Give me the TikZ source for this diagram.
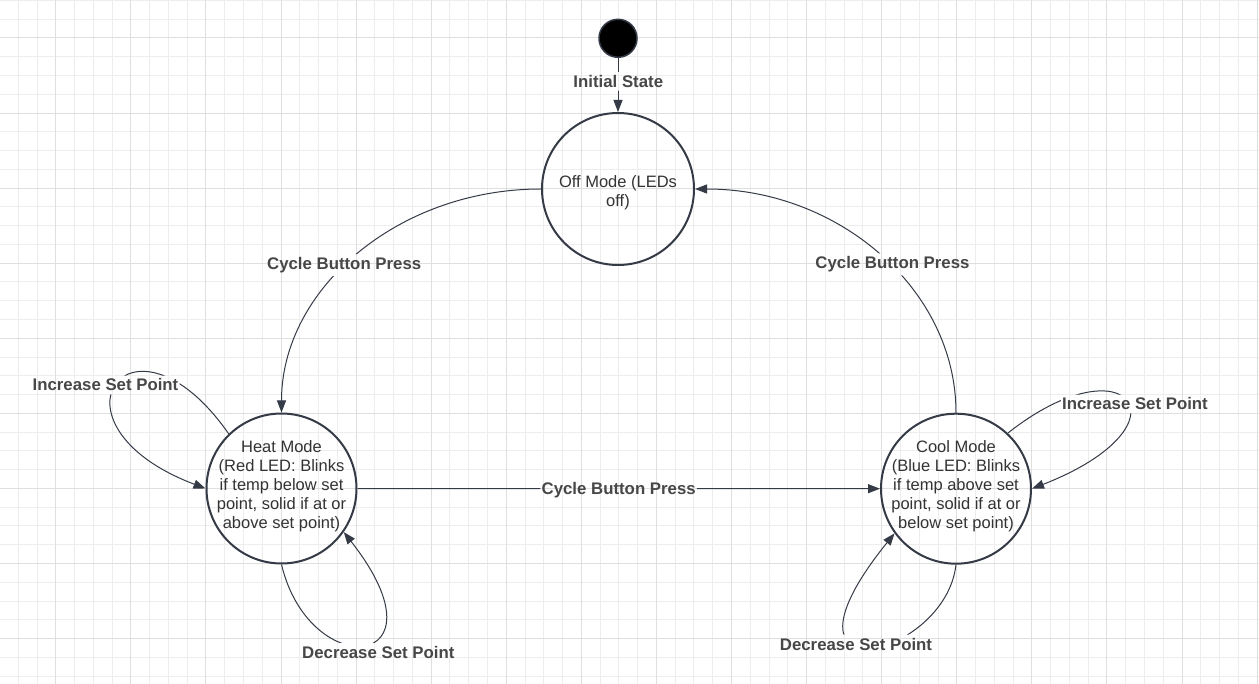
\documentclass[tikz,border=0pt]{standalone}
\usepackage{fontspec}
\setmainfont{Liberation Sans}
\usetikzlibrary{arrows.meta}
\definecolor{ink}{HTML}{343A46}
\definecolor{txt}{HTML}{333333}
\definecolor{lbl}{HTML}{474747}
\definecolor{gridminor}{HTML}{EDEDED}
\definecolor{gridmajor}{HTML}{DFDFDF}
\begin{document}
\begin{tikzpicture}[x=1pt,y=-1pt,
  state/.style={circle,draw=ink,line width=2pt,minimum size=150pt,inner sep=0pt},
  statetext/.style={align=center,text=txt,font=\fontsize{16.5}{19}\selectfont,inner sep=0pt},
  edgelabel/.style={text=lbl,font=\fontsize{16.8}{19}\selectfont\bfseries,inner xsep=1pt,inner ysep=3pt,anchor=base},
  conn/.style={draw=ink,line width=1pt,-{Triangle[length=12pt,width=9pt]}}]
\fill[white] (0,0) rectangle (1259,684);
\useasboundingbox (0,0) rectangle (1259,684);
% grid
\foreach \i in {0,...,67} {\draw[gridminor,line width=1pt] (\i*18.77-0.5,0) -- (\i*18.77-0.5,684);}
\foreach \j in {0,...,36} {\draw[gridminor,line width=1pt] (0,\j*18.77+0.4) -- (1259,\j*18.77+0.4);}
\foreach \i in {3,7,...,67} {\draw[gridmajor,line width=1pt] (\i*18.77-0.5,0) -- (\i*18.77-0.5,684);}
\foreach \j in {2,6,...,34} {\draw[gridmajor,line width=1pt] (0,\j*18.77+0.4) -- (1259,\j*18.77+0.4);}
% states
\node[circle,fill=black,draw=ink,line width=1.5pt,minimum size=38pt,inner sep=0pt] (init) at (618,38.3) {};
\node[state,minimum size=152pt] (off) at (618,189) {};
\node[state] (heat) at (281.5,488.5) {};
\node[state] (cool) at (956,488.7) {};
\node[statetext] (offtxt) at ([yshift=-3.6pt]off.center) {Off Mode (LEDs\\off)};
\node[statetext] (heattxt) at ([yshift=2.3pt]heat.center) {Heat Mode\\(Red LED: Blinks\\if temp below set\\point, solid if at or\\above set point)};
\node[statetext] (cooltxt) at ([yshift=2.3pt]cool.center) {Cool Mode\\(Blue LED: Blinks\\if temp above set\\point, solid if at or\\below set point)};
% labels
\node[edgelabel] (linit) at (618.3,87.3) {Initial State};
\node[edgelabel] (lcyc1) at (344.2,269.5) {Cycle Button Press};
\node[edgelabel] (lcyc2) at (892.5,268.7) {Cycle Button Press};
\node[edgelabel] (lcyc3) at (618.7,495) {Cycle Button Press};
\node[edgelabel] (linc1) at (105.5,391) {Increase Set Point};
\node[edgelabel] (ldec1) at (378.3,658.3) {Decrease Set Point};
\node[edgelabel] (linc2) at (1135,410) {Increase Set Point};
\node[edgelabel] (ldec2) at (856,650) {Decrease Set Point};
% connectors
\begin{scope}[even odd rule]
\clip (-10,-10) rectangle (1270,700)
  (linit.south west) rectangle (linit.north east)
  (lcyc1.south west) rectangle (lcyc1.north east)
  (lcyc2.south west) rectangle (lcyc2.north east)
  (lcyc3.south west) rectangle (lcyc3.north east)
  (linc1.south west) rectangle (linc1.north east)
  (ldec1.south west) rectangle (ldec1.north east)
  (linc2.south west) rectangle (linc2.north east)
  (ldec2.south west) rectangle (ldec2.north east);
\draw[conn] (init) -- (off);
\draw[conn] (off.west) .. controls (398,189) and (281.5,289) .. (heat.north);
\draw[conn] (cool.north) .. controls (956,289.3) and (838.7,189) .. (off.east);
\draw[conn] (heat.east) -- (cool.west);
\draw[conn] (heat.134) .. controls (131,294) and (36,424) .. (heat.west);
\draw[conn] (heat.south) .. controls (310,684) and (452,670) .. (heat.-35);
\draw[conn] (cool.47) .. controls (1128,338) and (1195,425) .. (cool.east);
\draw[conn] (cool.south) .. controls (945,660) and (760,700) .. (cool.-144);
\end{scope}
\end{tikzpicture}
\end{document}
